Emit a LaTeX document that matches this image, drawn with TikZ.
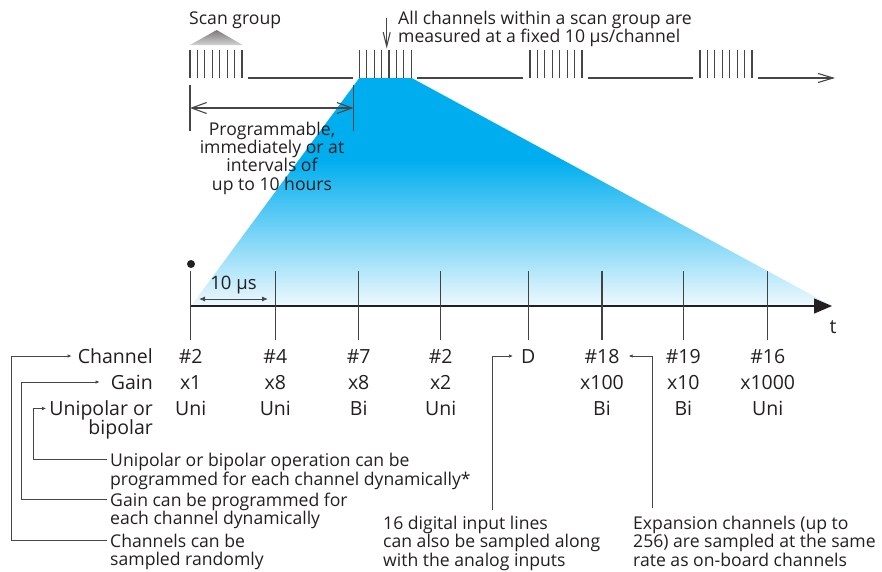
\documentclass[tikz,border=0pt]{standalone}
\usepackage{fontspec}
\setmainfont{Open Sans}
\usetikzlibrary{arrows.meta}
\definecolor{procyan}{RGB}{0,174,239}
\definecolor{palecyan}{RGB}{238,249,254}
\definecolor{ink}{RGB}{35,31,32}
\definecolor{wire}{RGB}{70,70,70}
\pgfdeclareverticalshading{bluefade}{100bp}{color(0bp)=(palecyan); color(25bp)=(palecyan); color(57bp)=(procyan); color(100bp)=(procyan)}
\pgfdeclareverticalshading{grayhat}{100bp}{color(0bp)=(ink!20); color(25bp)=(ink!20); color(75bp)=(ink!60); color(100bp)=(ink!60)}

\begin{document}
\begin{tikzpicture}[x=1pt, y=-1pt, every node/.style={font=\fontsize{17.6}{18.3}\selectfont, text=ink, inner sep=2pt},
	sig/.style={wire, line width=1.1pt},
	conn/.style={wire, line width=0.9pt, -{Latex[length=4pt,width=3.5pt]}},
	tick/.style={ink!85, line width=1.1pt},
	row/.style={font=\fontsize{19.5}{19.5}\selectfont},
	val/.style={row, anchor=base},
	note/.style={anchor=base west, align=left}]
	\useasboundingbox (0,0) rectangle (882,571);
	% fan from the scan group down to the time axis
	\shade[shading=bluefade] (359.3,78) -- (411.7,78) -- (832,306) -- (191,306) -- cycle;

	% scan groups on the top line
	\foreach \g in {190,359.3,530,700} {\foreach \i in {0,...,7} {\draw[sig] (\g+\i*7.43,50) -- (\g+\i*7.43,78);}}
	\foreach \a/\b in {248/353,417/523,588/693} {\draw[sig] (\a,78) -- (\b,78);}
	\draw[sig, -{Straight Barb[length=15pt,width=9pt]}] (758,78) -- (835,78);
	\shade[shading=grayhat] (190,45) -- (216.7,30) -- (242.7,45) -- cycle;
	\node[anchor=base west] (scangrp) at (187,24) {Scan group};
	% base of a multi-line node is its last line
	\node[note] (allch) at (396,42.5) {All channels within a scan group are\\measured at a fixed 10 μs/channel};
	\coordinate (fixtop) at (386.7,18);
	\coordinate (fixbot) at (386.7,48.5);
	\draw[sig, -{Straight Barb[length=14pt,width=7pt]}] (fixtop) -- (fixbot);

	% interval between scan groups
	\coordinate (ivl) at (190,108);
	\coordinate (ivr) at (353.5,108);
	\draw[sig] (190,85) -- (190,131);
	\draw[sig] (353.5,85) -- (353.5,131);
	\draw[sig, {Straight Barb[length=15pt,width=11pt]}-{Straight Barb[length=15pt,width=11pt]}] (ivl) -- (ivr);
	\node[anchor=base, align=center] (prog) at (272,190) {Programmable,\\immediately or at\\intervals of\\up to 10 hours};

	% time axis
	\draw[ink, line width=1.4pt, -{Triangle[length=18pt,width=15pt]}] (190,306) -- (832,306);
	\node[row, anchor=base] (tlbl) at (833,333) {t};
	\fill[ink] (191,264) circle (4pt);
	\coordinate (usl) at (199,299);
	\coordinate (usr) at (268,299);
	\draw[wire, line width=0.9pt, {Latex[length=6pt,width=5pt]}-{Latex[length=6pt,width=5pt]}] (usl) -- (usr);
	\node[anchor=base, font=\fontsize{18.5}{18.5}\selectfont] (tenus) at (233.5,289) {10 μs};

	\foreach \x/\ch/\gn/\pl [count=\k] in {190.7/\#2/x1/Uni, 275.3/\#4/x8/Uni, 358.7/\#7/x8/Bi, 440.7/\#2/x2/Uni,
		528.3/D//, 602/\#18/x100/Bi, 683.3/\#19/x10/Bi, 767.7/\#16/x1000/Uni} {
		\draw[tick] (\x,271) -- (\x,340);
		\node[val] (c\k) at (\x,363) {\ch};
		\node[val] (g\k) at (\x,389) {\gn};
		\node[val] (p\k) at (\x,415) {\pl};
	}

	% row labels
	\node[row, anchor=base east] (chlbl) at (155,363) {Channel};
	\node[row, anchor=base east] (gainlbl) at (155,389) {Gain};
	\node[row, anchor=base east, align=right] (pollbl) at (155,434.5) {Unipolar or\\bipolar};

	% notes
	\node[note] (polnote) at (108,485) {Unipolar or bipolar operation can be\\programmed for each channel dynamically*};
	\node[note] (gainnote) at (108,524.8) {Gain can be programmed for\\each channel dynamically};
	\node[note] (chnote) at (108,565.3) {Channels can be\\sampled randomly};
	\node[note] (dignote) at (381,566) {16 digital input lines\\can also be sampled along\\with the analog inputs};
	\node[note] (expnote) at (631,566) {Expansion channels (up to\\256) are sampled at the same\\rate as on-board channels};

	\draw[conn, shorten >=1pt] ([xshift=-1pt,yshift=25.3pt]polnote.base west) -- ++(-74,0) |- ([yshift=26pt]pollbl.base west);
	\draw[conn, shorten >=9pt] ([xshift=-1pt,yshift=25.3pt]gainnote.base west) -- ++(-86,0) |- ([yshift=7pt]gainlbl.base west);
	\draw[conn, shorten >=4pt] ([xshift=-1pt,yshift=25.3pt]chnote.base west) -- ++(-96,0) |- ([yshift=7pt]chlbl.base west);
	\coordinate (digtop) at (492.7,510);
	\coordinate (exptop) at (652.7,508);
	\draw[conn, shorten >=6pt] (digtop) |- ([yshift=7pt]c5.base west);
	\draw[conn, shorten >=7pt] (exptop) |- ([yshift=7pt]c6.base east);
\end{tikzpicture}
\end{document}
